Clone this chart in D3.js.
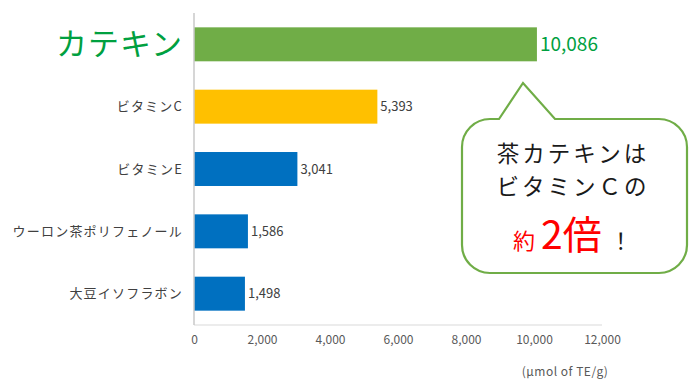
<!DOCTYPE html>
<html>
<head>
<meta charset="utf-8">
<script src="https://cdn.jsdelivr.net/npm/d3@7"></script>
<style>
body { margin: 0; background: #fff; }
text { font-family: "Noto Sans CJK JP", "Noto Sans", sans-serif; }
</style>
</head>
<body>
<svg class="canvas"></svg>
<script>
var categories = ["カテキン", "ビタミンC", "ビタミンE", "ウーロン茶ポリフェノール", "大豆イソフラボン"];
var values = [10086, 5393, 3041, 1586, 1498];
var barColors = ["#70ad47", "#ffc000", "#0070c0", "#0070c0", "#0070c0"];
var ticks = [0, 2000, 4000, 6000, 8000, 10000, 12000];
var unitLabel = "(μmol of TE/g)";

var width = 700,
	height = 385;

var X0 = 194, X1 = 602;
var Y0 = 13, Y1 = 325;

var canvas = d3.select(".canvas")
	.attr("width", width)
	.attr("height", height);

var x = d3.scaleLinear().domain([0, 12000]).range([X0, X1]);
var y = d3.scaleBand().domain(categories).range([Y0, Y1]).paddingInner(0.455).paddingOuter(0.23);

// x axis: labels only, plus the base line
var xAxis = canvas.append("g")
	.attr("transform", "translate(0," + Y1 + ")")
	.call(d3.axisBottom(x).tickValues(ticks).tickSize(0).tickPadding(10).tickFormat(d3.format(",")));
xAxis.select(".domain").remove();
xAxis.selectAll("text")
	.attr("fill", "#595959")
	.style("font-size", "12px");

canvas.append("line")
	.attr("x1", X0).attr("x2", X1)
	.attr("y1", Y1).attr("y2", Y1)
	.attr("stroke", "#d9d9d9").attr("stroke-width", 1);

// bars
canvas.selectAll("rect.bar").data(values)
	.enter().append("rect")
	.attr("class", "bar")
	.attr("x", x(0))
	.attr("y", function(d, i) { return y(categories[i]); })
	.attr("width", function(d) { return x(d) - x(0); })
	.attr("height", y.bandwidth())
	.attr("fill", function(d, i) { return barColors[i]; });

// y axis line
canvas.append("line")
	.attr("x1", X0).attr("x2", X0)
	.attr("y1", Y0).attr("y2", Y1)
	.attr("stroke", "#c8c8c8").attr("stroke-width", 1.5);

// category labels
canvas.selectAll("text.cat").data(categories)
	.enter().append("text")
	.attr("class", "cat")
	.attr("x", 183)
	.attr("y", function(d) { return y(d) + y.bandwidth() / 2; })
	.attr("dy", ".35em")
	.attr("text-anchor", "end")
	.attr("fill", function(d, i) { return i === 0 ? "#00a040" : "#404040"; })
	.style("font-size", function(d, i) { return i === 0 ? "31px" : "13px"; })
	.style("letter-spacing", function(d, i) { return i === 0 ? "1px" : "1.2px"; })
	.text(function(d) { return d; });

// value labels
canvas.selectAll("text.val").data(values)
	.enter().append("text")
	.attr("class", "val")
	.attr("x", function(d) { return x(d) + 3; })
	.attr("y", function(d, i) { return y(categories[i]) + y.bandwidth() / 2; })
	.attr("dy", ".35em")
	.attr("fill", function(d, i) { return i === 0 ? "#00a040" : "#404040"; })
	.style("font-size", function(d, i) { return i === 0 ? "19px" : "13px"; })
	.text(function(d) { return d3.format(",")(d); });

// unit
canvas.append("text")
	.attr("x", 565).attr("y", 372)
	.attr("dy", ".35em")
	.attr("text-anchor", "middle")
	.attr("fill", "#595959")
	.style("font-size", "12px")
	.style("letter-spacing", "0.5px")
	.text(unitLabel);

// speech bubble
var bx0 = 462, bx1 = 687, by0 = 119, by1 = 273, r = 28;
var path = d3.path();
path.moveTo(bx0 + r, by0);
path.lineTo(499, by0);
path.lineTo(523, 83);
path.lineTo(555, by0);
path.lineTo(bx1 - r, by0);
path.arcTo(bx1, by0, bx1, by0 + r, r);
path.lineTo(bx1, by1 - r);
path.arcTo(bx1, by1, bx1 - r, by1, r);
path.lineTo(bx0 + r, by1);
path.arcTo(bx0, by1, bx0, by1 - r, r);
path.lineTo(bx0, by0 + r);
path.arcTo(bx0, by0, bx0 + r, by0, r);
path.closePath();

canvas.append("path")
	.attr("d", path.toString())
	.attr("fill", "#fff")
	.attr("stroke", "#70ad47")
	.attr("stroke-width", 2.2);

canvas.append("text")
	.attr("x", 573).attr("y", 154)
	.attr("dy", ".35em")
	.attr("text-anchor", "middle")
	.attr("fill", "#1a1a1a")
	.style("font-size", "22.5px")
	.style("letter-spacing", "3px")
	.text("茶カテキンは");

canvas.append("text")
	.attr("x", 573).attr("y", 187)
	.attr("dy", ".35em")
	.attr("text-anchor", "middle")
	.attr("fill", "#1a1a1a")
	.style("font-size", "22.5px")
	.style("letter-spacing", "3px")
	.text("ビタミンＣの");

var last = canvas.append("text")
	.attr("x", 513).attr("y", 249);
last.append("tspan")
	.attr("fill", "#ff0000")
	.style("font-size", "22px")
	.text("約");
last.append("tspan")
	.attr("fill", "#ff0000")
	.attr("dx", 6)
	.style("font-size", "39px")
	.text("2倍");
last.append("tspan")
	.attr("fill", "#1a1a1a")
	.attr("dx", 8)
	.style("font-size", "22px")
	.text("！");
</script>
</body>
</html>
